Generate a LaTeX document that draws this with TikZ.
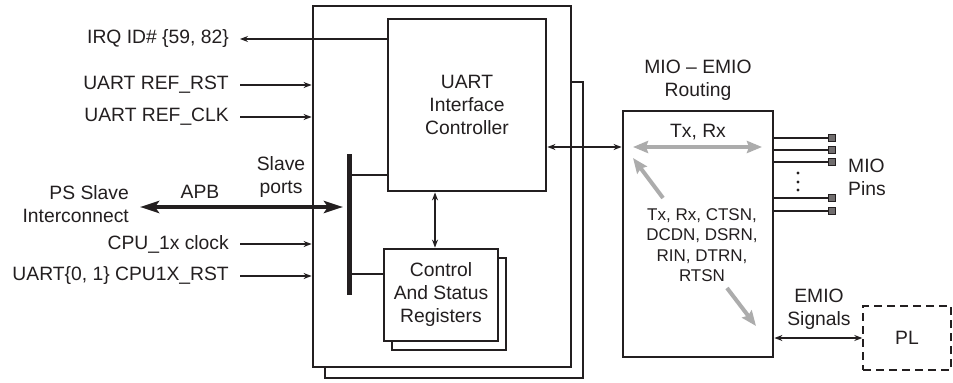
\documentclass[tikz,border=0pt]{standalone}
\usepackage{fontspec}
\setmainfont{Liberation Sans}
\usetikzlibrary{arrows.meta}
\definecolor{UartInk}{RGB}{35,31,32}
\definecolor{UartGray}{RGB}{172,172,172}

\begin{document}
\begin{tikzpicture}[x=1bp,y=1bp,line join=miter]
  \path[use as bounding box] (0,0) rectangle (953,382);
  \fill[white] (0,0) rectangle (953,382);

  \tikzset{
    box/.style={draw=UartInk,line width=2.8bp,fill=white,inner sep=0pt,text=UartInk,
      align=center,font=\fontsize{19.3bp}{23bp}\selectfont},
    note/.style={inner sep=0pt,text=UartInk,align=center,
      font=\fontsize{19.3bp}{23bp}\selectfont},
    sigtext/.style={anchor=east,inner xsep=11bp,inner ysep=0pt,text=UartInk,align=right,
      font=\fontsize{19.3bp}{23bp}\selectfont},
    sig/.style={-{Stealth[length=8bp,width=6bp]},line width=1.2bp,draw=UartInk},
    sigboth/.style={{Stealth[length=8bp,width=6bp]}-{Stealth[length=8bp,width=6bp]},
      line width=1.2bp,draw=UartInk},
    busline/.style={line width=5bp,draw=UartInk},
    apbline/.style={{Stealth[length=19bp,width=12bp,inset=4bp]}-{Stealth[length=19bp,width=12bp,inset=4bp]},
      line width=4.3bp,draw=UartInk},
    route/.style={line width=4bp,draw=UartGray},
    miopad/.style={draw=UartInk,fill=UartInk!65,line width=0.8bp,minimum size=7bp,inner sep=0pt},
  }

  % UART block (with second instance behind)
  \node[box,minimum width=258bp,minimum height=296bp] (mainback) at (454,152) {};
  \node[box,minimum width=258bp,minimum height=361bp] (main) at (442,195.5) {};

  \node[box,minimum width=158bp,minimum height=172bp] (ctrl) at (467,277)
    {UART\\Interface\\Controller};
  \node[box,minimum width=114bp,minimum height=92bp] (csrback) at (449,78) {};
  \node[box,minimum width=114bp,minimum height=92bp] (csr) at (441,87)
    {Control\\And Status\\Registers};

  \draw[sigboth] ([xshift=-6bp]csr.north) -- ([xshift=-6bp]csr.north |- ctrl.south);

  % Slave port bus
  \coordinate (bustop) at (349,228);
  \coordinate (busbot) at (349,87);
  \draw[busline] (bustop) -- (busbot);
  \draw[line width=2.8bp,draw=UartInk] ([yshift=-21bp]bustop) -- ([yshift=-21bp]bustop -| ctrl.west);
  \draw[line width=2.8bp,draw=UartInk] ([yshift=21bp]busbot) -- ([yshift=21bp]busbot -| csr.west);

  % Left side signals
  \node[sigtext] (irq) at (240,343) {IRQ ID\# \{59, 82\}};
  \node[sigtext] (refrst) at (240,297) {UART REF\_RST};
  \node[sigtext] (refclk) at (240,265) {UART REF\_CLK};
  \node[sigtext] (psl) at (140,178) {PS Slave\\Interconnect};
  \node[sigtext] (cpuclk) at (240,138) {CPU\_1x clock};
  \node[sigtext] (cpurst) at (240,106) {UART\{0, 1\} CPU1X\_RST};

  \draw[sig] (irq.east -| ctrl.west) -- (irq.east);
  \draw[sig] (refrst.east) -- (refrst.east -| main.west);
  \draw[sig] (refclk.east) -- (refclk.east -| main.west);
  \draw[sig] (cpuclk.east) -- (cpuclk.east -| main.west);
  \draw[sig] (cpurst.east) -- (cpurst.east -| main.west);

  % APB
  \coordinate (apbend) at (343,175);
  \draw[apbline] (psl.east |- apbend) -- (apbend);
  \node[note] (apb) at (200,190) {APB};
  \node[note] (slave) at (281,204.5) {Slave\\ports};

  % MIO - EMIO routing
  \node[box,minimum width=150bp,minimum height=246bp] (mio) at (698,148) {};
  \node[note] (miotitle) at (698,302) {MIO -- EMIO\\Routing};
  \draw[sigboth] ([yshift=-42bp]ctrl.east) -- ([yshift=-42bp]ctrl.east -| mio.west);

  \node[note] (txrx) at (698,250) {Tx, Rx};
  \coordinate (txl) at (633,235);
  \coordinate (txr) at (762,235);
  \draw[route,{Stealth[length=15bp,width=12bp,inset=2bp]}-{Stealth[length=15bp,width=12bp,inset=2bp]}] (txl) -- (txr);
  \node[note,font=\fontsize{17bp}{20.5bp}\selectfont] (siglist) at (702,137)
    {Tx, Rx, CTSN,\\DCDN, DSRN,\\RIN, DTRN,\\RTSN};
  \coordinate (upa) at (663,184);
  \coordinate (upb) at (633,224);
  \coordinate (dna) at (727,94);
  \coordinate (dnb) at (756,56);
  \draw[route,-{Stealth[length=15bp,width=12bp,inset=2bp]}] (upa) -- (upb);
  \draw[route,-{Stealth[length=15bp,width=12bp,inset=2bp]}] (dna) -- (dnb);

  % MIO pins
  \foreach \name/\y in {pa/244,pb/232,pc/220,pd/184,pe/171} {
    \node[miopad] (\name) at (832,\y) {};
    \draw[line width=1.2bp,draw=UartInk] (\name.west -| mio.east) -- (\name.west);
  }
  \foreach \y in {209,200,192} {
    \fill[UartInk] (798,\y) circle (1.6bp);
  }
  \node[note,anchor=west,align=left] (miopins) at (848,205) {MIO\\Pins};

  % PL / EMIO
  \node[box,dash pattern=on 8bp off 5bp,line width=1.4bp,minimum width=88bp,minimum height=64bp] (pl) at (907,44) {PL};
  \draw[sigboth] (mio.east |- pl.west) -- (pl.west);
  \node[note] (emio) at (819,72.5) {EMIO\\Signals};

\end{tikzpicture}
\end{document}
